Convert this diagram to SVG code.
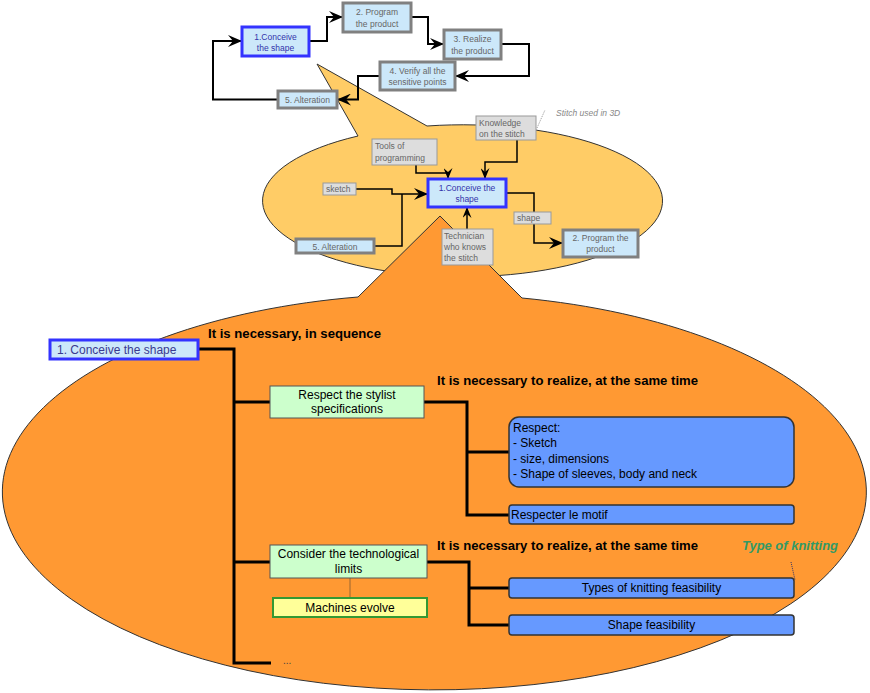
<svg xmlns="http://www.w3.org/2000/svg" width="870" height="693" viewBox="0 0 870 693">
<style>
text{font-family:"Liberation Sans",Arial,sans-serif}
.t8{font-size:8.5px}
.blu{fill:#3333aa}
.gry{fill:#666}
.bx1{fill:#cce8fa;stroke:#3333ff;stroke-width:3}
.bx2{fill:#cce8fa;stroke:#808080;stroke-width:3}
.lbl{fill:#dddddd;stroke:#999;stroke-width:1}
.c2{fill:none;stroke:#000;stroke-width:2}
.c1{fill:none;stroke:#000;stroke-width:1.5}
.c3{fill:none;stroke:#000;stroke-width:3}
.t12{font-size:12px;fill:#000}
.grn{fill:#ccffcc;stroke:#555;stroke-width:1}
.bl{fill:#6699ff;stroke:#333;stroke-width:1.5}
.hd{font-size:13px;font-weight:bold;fill:#000}
.mid{text-anchor:middle}
</style>
<defs>
<marker id="arr" markerUnits="userSpaceOnUse" markerWidth="14" markerHeight="12" refX="14" refY="6" orient="auto"><path d="M0,0 L14,6 L0,12 L5,6 Z" fill="#000"/></marker>
<marker id="arrS" markerUnits="userSpaceOnUse" markerWidth="11" markerHeight="9" refX="11" refY="4.5" orient="auto"><path d="M0,0 L11,4.5 L0,9 L4,4.5 Z" fill="#000"/></marker>
</defs>
<g id="backgrounds">
<path d="M358,136 L317,64 L427,126 A200 76 0 1 1 358,136 Z" fill="#ffcc66" stroke="#333" stroke-width="1"/>
<path d="M358,297 L440,216 L522,298 A432 198 0 1 1 358,297 Z" fill="#ff9933" stroke="#333" stroke-width="1"/>
</g>
<g id="connectors">
<path class="c2" d="M278,99.5 H213 V41 H242" marker-end="url(#arr)"/>
<path class="c2" d="M309,41 H327 V17 H343" marker-end="url(#arr)"/>
<path class="c2" d="M411,17 H428 V44 H444" marker-end="url(#arr)"/>
<path class="c2" d="M501,44 H529 V76 H455" marker-end="url(#arr)"/>
<path class="c2" d="M380,76 H358 V99.5 H337" marker-end="url(#arr)"/>
<path class="c1" d="M416,165 V173 H448 V179" marker-end="url(#arrS)"/>
<path class="c1" d="M517,140 V162 H485 V179" marker-end="url(#arrS)"/>
<path class="c1" d="M356,189 H392 V194 H428" marker-end="url(#arr)"/>
<path class="c1" d="M374,246 H402 V194"/>
<path class="c1" d="M506,193 H534 V243 H563" marker-end="url(#arr)"/>
<path class="c1" d="M467,229 V207" marker-end="url(#arrS)"/>
<path d="M537,128 L545,110" stroke="#999" stroke-width="1" stroke-dasharray="1,1"/>
<path class="c3" d="M198,349 H234 V663 H271"/>
<path class="c3" d="M234,402 H270"/>
<path class="c3" d="M234,562 H270"/>
<path class="c3" d="M424,402 H467 V515 H509"/>
<path class="c3" d="M467,452 H509"/>
<path class="c3" d="M427,562 H469 V625 H509"/>
<path class="c3" d="M469,588 H509"/>
<path d="M350,578 V598" stroke="#996633" stroke-width="1"/>
<path d="M791,562 L795,580" stroke="#336" stroke-width="1" stroke-dasharray="1,1"/>
</g>
<g id="top1"><rect class="bx1" x="242" y="27" width="67" height="29"/><text class="t8 blu mid" x="275.5" y="40">1.Conceive</text><text class="t8 blu mid" x="275.5" y="51">the shape</text></g>
<g id="top2"><rect class="bx2" x="343" y="3" width="68" height="29"/><text class="t8 gry mid" x="377" y="15">2. Program</text><text class="t8 gry mid" x="377" y="27">the product</text></g>
<g id="top3"><rect class="bx2" x="444" y="30" width="57" height="29"/><text class="t8 gry mid" x="472.5" y="42">3. Realize</text><text class="t8 gry mid" x="472.5" y="54">the product</text></g>
<g id="top4"><rect class="bx2" x="380" y="62" width="75" height="28"/><text class="t8 gry mid" x="417.5" y="74">4. Verify all the</text><text class="t8 gry mid" x="417.5" y="85">sensitive points</text></g>
<g id="top5"><rect class="bx2" x="278" y="91" width="59" height="17"/><text class="t8 gry mid" x="307.5" y="103">5. Alteration</text></g>
<g id="midConceive"><rect class="bx1" x="428" y="179" width="78" height="28"/><text class="t8 blu mid" x="467" y="191">1.Conceive the</text><text class="t8 blu mid" x="467" y="202">shape</text></g>
<g id="tools"><rect class="lbl" x="372" y="139" width="65" height="26"/><text class="t8 gry" x="375" y="149">Tools of</text><text class="t8 gry" x="375" y="161">programming</text></g>
<g id="knowledge"><rect class="lbl" x="476" y="116" width="60" height="24"/><text class="t8 gry" x="479" y="126">Knowledge</text><text class="t8 gry" x="479" y="137">on the stitch</text></g>
<g id="sketch"><rect class="lbl" x="323" y="183" width="33" height="12"/><text class="t8 gry" x="326" y="192">sketch</text></g>
<g id="midAlteration"><rect class="bx2" x="296" y="239" width="78" height="14" stroke-width="2.5"/><text class="t8 gry mid" x="335" y="249.5">5. Alteration</text></g>
<g id="shapeLbl"><rect class="lbl" x="514" y="212" width="37" height="12"/><text class="t8 gry" x="517" y="221">shape</text></g>
<g id="midProgram"><rect class="bx2" x="563" y="230" width="75" height="27" stroke-width="2.5"/><text class="t8 gry mid" x="600.5" y="241">2. Program the</text><text class="t8 gry mid" x="600.5" y="252">product</text></g>
<g id="technician"><rect class="lbl" x="442" y="229" width="51" height="36"/><text class="t8 gry" x="444" y="239">Technician</text><text class="t8 gry" x="444" y="250">who knows</text><text class="t8 gry" x="444" y="261">the stitch</text></g>
<g id="stitch3d"><text class="t8" x="556" y="116" font-style="italic" fill="#888">Stitch used in 3D</text></g>
<g id="botConceive"><rect class="bx1" x="50" y="340" width="148" height="19"/><text x="57" y="354" font-size="12" fill="#3a3a90">1. Conceive the shape</text></g>
<g id="hdr1"><text class="hd" x="208" y="338" textLength="173" lengthAdjust="spacingAndGlyphs">It is necessary, in sequence</text></g>
<g id="hdr2"><text class="hd" x="437" y="385" textLength="261" lengthAdjust="spacingAndGlyphs">It is necessary to realize, at the same time</text></g>
<g id="hdr3"><text class="hd" x="437" y="550" textLength="261" lengthAdjust="spacingAndGlyphs">It is necessary to realize, at the same time</text></g>
<g id="typeKnitting"><text x="742" y="550" font-size="12" font-style="italic" font-weight="bold" fill="#339966" textLength="96" lengthAdjust="spacingAndGlyphs">Type of knitting</text></g>
<g id="stylist"><rect class="grn" x="270" y="386" width="154" height="32"/><text class="t12 mid" x="347" y="399">Respect the stylist</text><text class="t12 mid" x="347" y="413">specifications</text></g>
<g id="respect"><rect class="bl" x="509" y="417" width="285" height="70" rx="10"/><text class="t12" x="513" y="432">Respect:</text><text class="t12" x="513" y="447">- Sketch</text><text class="t12" x="513" y="463">- size, dimensions</text><text class="t12" x="513" y="478">- Shape of sleeves, body and neck</text></g>
<g id="motif"><rect class="bl" x="509" y="505" width="285" height="19" rx="3"/><text class="t12" x="511" y="519">Respecter le motif</text></g>
<g id="techLimits"><rect class="grn" x="270" y="545" width="157" height="33"/><text class="t12 mid" x="348.5" y="558">Consider the technological</text><text class="t12 mid" x="348.5" y="573">limits</text></g>
<g id="machines"><rect x="273" y="598" width="154" height="19" fill="#ffff99" stroke="#339933" stroke-width="2"/><text class="t12 mid" x="350" y="612">Machines evolve</text></g>
<g id="types"><rect class="bl" x="509" y="578" width="285" height="20" rx="3"/><text class="t12 mid" x="651.5" y="592">Types of knitting feasibility</text></g>
<g id="shapeFeas"><rect class="bl" x="509" y="615" width="285" height="20" rx="3"/><text class="t12 mid" x="651.5" y="629">Shape feasibility</text></g>
<g id="dots"><text x="283" y="664" font-size="10" fill="#444">...</text></g>
</svg>
